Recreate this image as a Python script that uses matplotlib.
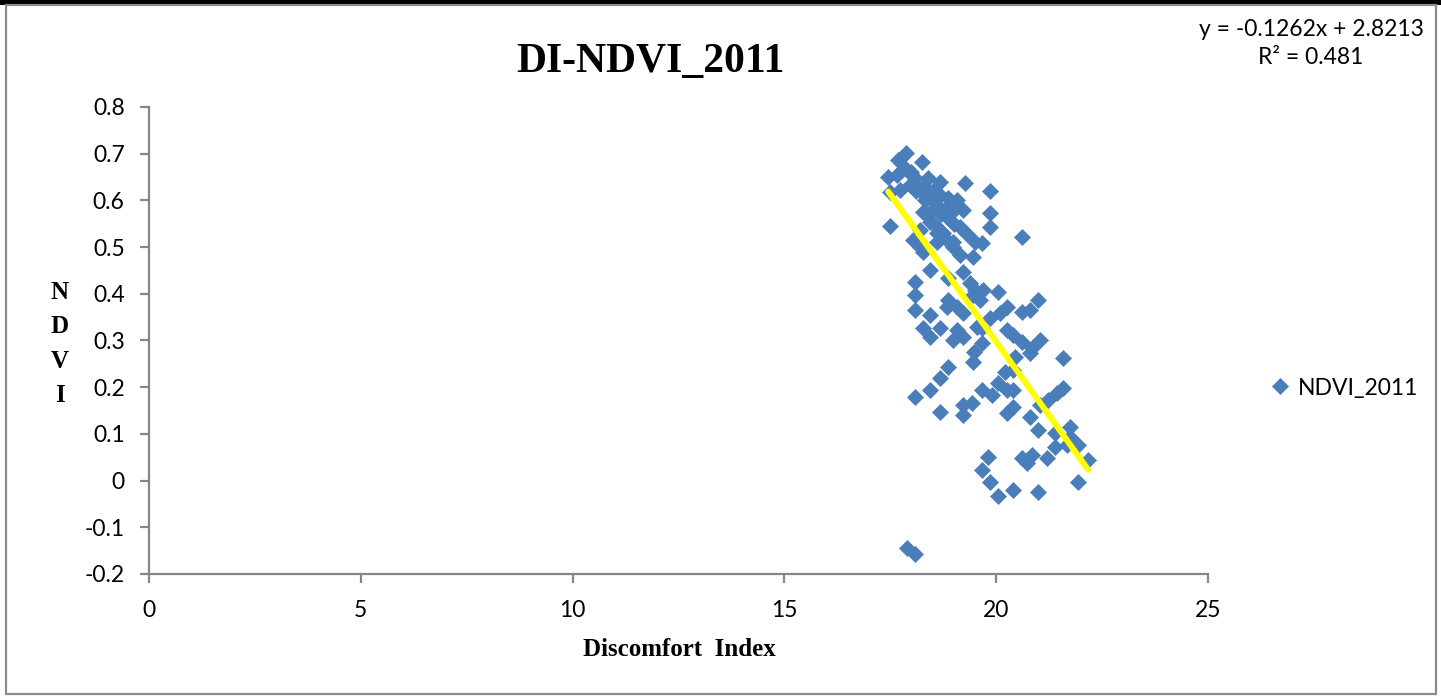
import matplotlib
matplotlib.use("Agg")
import matplotlib.pyplot as plt
from matplotlib.patches import Rectangle

# discomfort index (x) against NDVI (y), 2011
di = [
    17.87, 17.68, 18.25, 17.45, 17.66, 17.97, 18.08, 17.49, 17.73, 18.67,
    19.26, 18.20, 18.44, 18.86, 18.60, 19.22, 18.96, 18.27, 17.49, 18.44,
    18.91, 19.15, 18.20, 18.74, 19.31, 18.60, 18.98, 19.50, 18.04, 18.20,
    17.85, 18.39, 18.67, 19.07, 18.32, 18.79, 18.56, 17.97,
    18.00, 18.10, 18.30, 18.50, 18.50, 18.70, 18.40, 18.90, 19.00, 18.60,
    18.80,
    19.85, 19.85, 19.85, 20.61, 19.66,
    18.27, 18.98, 19.15, 18.44, 19.22, 18.86, 18.08, 19.38, 18.08, 18.86,
    19.07, 19.45, 18.08, 18.44, 18.84, 18.27, 18.67, 19.07, 19.22, 19.55,
    18.98,
    19.45, 19.50, 19.69, 20.04, 19.62, 20.99, 20.25, 20.80, 20.61, 20.09,
    19.85, 19.22, 19.66, 20.25, 20.40, 20.61, 21.03, 19.66, 20.85,
    18.44, 19.48, 19.45, 18.86, 18.67, 18.44, 18.08, 18.67, 19.22, 19.43,
    19.22, 19.66, 19.90, 20.04, 20.25, 20.40, 20.21, 20.40, 20.25, 20.40,
    20.80, 20.99, 21.03, 21.22, 21.44, 21.58, 21.39, 19.81, 19.66, 20.61,
    20.85, 20.73, 21.20, 21.39, 19.85, 20.44, 20.80, 21.58, 21.74, 21.74,
    21.93, 22.17, 21.67, 21.93, 20.40, 20.99, 20.04, 17.89, 18.08,
]
ndvi = [
    0.701, 0.686, 0.682, 0.650, 0.654, 0.659, 0.648, 0.618, 0.622, 0.639,
    0.637, 0.622, 0.607, 0.605, 0.590, 0.579, 0.575, 0.575, 0.546, 0.554,
    0.558, 0.544, 0.537, 0.531, 0.527, 0.511, 0.511, 0.511, 0.515, 0.500,
    0.669, 0.648, 0.612, 0.601, 0.601, 0.575, 0.548, 0.633,
    0.660, 0.620, 0.630, 0.620, 0.580, 0.570, 0.570, 0.590, 0.550, 0.530,
    0.520,
    0.620, 0.573, 0.544, 0.522, 0.509,
    0.489, 0.500, 0.483, 0.451, 0.447, 0.434, 0.425, 0.423, 0.397, 0.386,
    0.372, 0.397, 0.365, 0.354, 0.372, 0.327, 0.327, 0.322, 0.308, 0.329,
    0.301,
    0.478, 0.408, 0.408, 0.404, 0.386, 0.386, 0.372, 0.365, 0.361, 0.359,
    0.348, 0.359, 0.327, 0.322, 0.312, 0.297, 0.301, 0.295, 0.284,
    0.308, 0.275, 0.254, 0.243, 0.220, 0.194, 0.179, 0.147, 0.162, 0.166,
    0.140, 0.194, 0.183, 0.209, 0.194, 0.194, 0.232, 0.236, 0.145, 0.158,
    0.136, 0.108, 0.162, 0.172, 0.187, 0.198, 0.102, 0.051, 0.023, 0.048,
    0.055, 0.037, 0.048, 0.072, -0.003, 0.265, 0.273, 0.262, 0.115, 0.093,
    0.076, 0.044, 0.076, -0.003, -0.020, -0.024, -0.033, -0.144, -0.157,
]

# linear trendline
slope = -0.1262
intercept = 2.8213
r_squared = 0.481

x_ticks = [0, 5, 10, 15, 20, 25]
y_ticks = [-0.2, -0.1, 0, 0.1, 0.2, 0.3, 0.4, 0.5, 0.6, 0.7, 0.8]
y_tick_labels = ["-0.2", "-0.1", "0", "0.1", "0.2", "0.3", "0.4", "0.5", "0.6", "0.7", "0.8"]

W, H = 1441, 696
fig = plt.figure(figsize=(W / 100, H / 100), dpi=100)
ax = fig.add_axes([149 / W, 1 - 574 / H, (1208 - 149) / W, (574 - 107) / H])

blue = "#4a7ebb"
grey = "#868686"
label_font = "Lato"
serif = "Liberation Serif"
label_size = 16.5

ax.plot(di, ndvi, linestyle="none", marker="D", markersize=8.4,
        color=blue, markeredgecolor=blue, markeredgewidth=0.5,
        label="NDVI_2011", zorder=3)

x0, x1 = min(di), max(di)
ax.plot([x0, x1], [slope * x0 + intercept, slope * x1 + intercept],
        color="#ffff00", linewidth=4.3, solid_capstyle="round", zorder=4)

ax.set_xlim(0, 25)
ax.set_ylim(-0.2, 0.8)
ax.set_xticks(x_ticks)
ax.set_yticks(y_ticks)
ax.set_yticklabels(y_tick_labels)

for side in ("top", "right"):
    ax.spines[side].set_visible(False)
for side in ("left", "bottom"):
    ax.spines[side].set_color(grey)
    ax.spines[side].set_linewidth(1.6)
ax.tick_params(axis="both", direction="out", length=6.5, width=1.6,
               color=grey, labelsize=label_size)
ax.tick_params(axis="x", pad=12)
ax.tick_params(axis="y", pad=11)
for lbl in ax.get_xticklabels() + ax.get_yticklabels():
    lbl.set_fontfamily(label_font)

# titles and axis labels
fig.text(650 / W, 1 - 62 / H, "DI-NDVI_2011", ha="center", va="center",
         fontsize=30, fontweight="bold", family=serif)
fig.text(679 / W, 1 - 650 / H, "Discomfort  Index", ha="center", va="center",
         fontsize=18, fontweight="bold", family=serif)
fig.text(60 / W, 1 - 344 / H, "N\nD\nV\nI", ha="center", va="center",
         fontsize=18, fontweight="bold", family=serif, linespacing=1.62)

# trendline equation
fig.text(1311 / W, 1 - 30 / H, f"y = {slope}x + {intercept}", ha="center",
         va="center", fontsize=label_size, family=label_font)
fig.text(1311 / W, 1 - 58 / H, f"R² = {r_squared}", ha="center",
         va="center", fontsize=label_size, family=label_font)

leg = ax.legend(loc="center left", bbox_to_anchor=(1258 / W, 1 - 388 / H),
                bbox_transform=fig.transFigure, frameon=False,
                handlelength=0.9, handletextpad=0.35, borderpad=0,
                prop={"family": label_font, "size": label_size})

# chart frame
fig.patches.append(Rectangle((0, 1 - 5 / H), 1, 5 / H, transform=fig.transFigure,
                             facecolor="black", edgecolor="none"))
fig.patches.append(Rectangle((6 / W, 2 / H), (1436 - 6) / W, (691 - 2) / H,
                             transform=fig.transFigure, facecolor="none",
                             edgecolor="#8c8c8c", linewidth=1.6))

fig.savefig("out.png", dpi=100)
